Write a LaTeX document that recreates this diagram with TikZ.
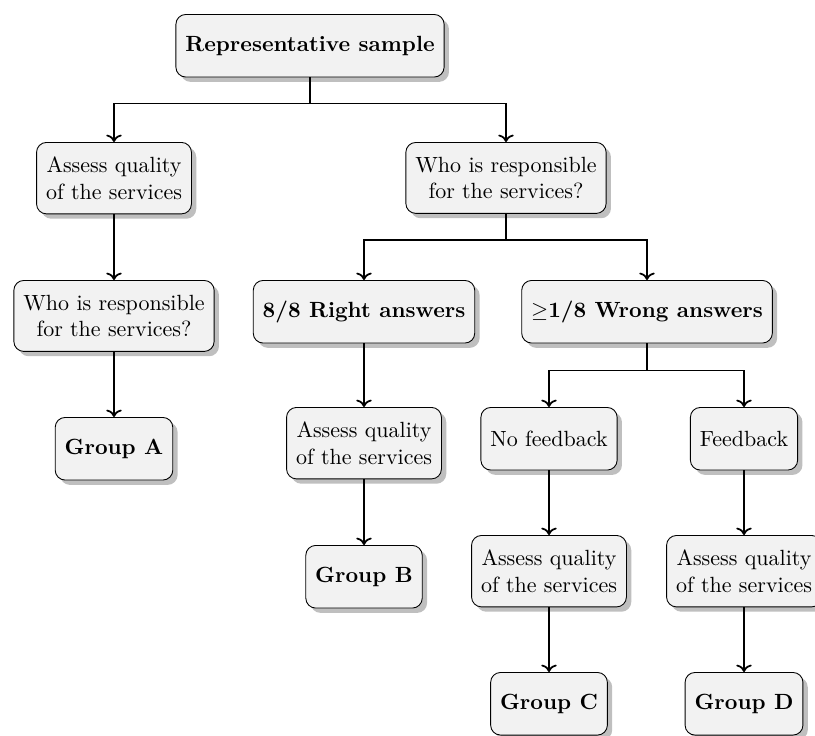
\documentclass[tikz,border=0pt]{standalone}
\usetikzlibrary{shadows,arrows.meta}
\begin{document}
\begin{tikzpicture}[x=0.4545pt,y=-0.4545pt,
  box/.style={draw, rounded corners=4.5pt, fill=black!5, align=center,
    inner xsep=4.3pt, inner ysep=6.6pt, minimum height=1cm, anchor=north,
    drop shadow={shadow xshift=2.2pt, shadow yshift=-2.2pt, fill=black!25, opacity=1}},
  conn/.style={thick, ->}]
\useasboundingbox (0,0) rectangle (815,735);
\node[box] (root) at (310,14) {\textbf{Representative sample}};
\node[box] (a1) at (114,142) {Assess quality\\of the services};
\node[box] (w1) at (506,142) {Who is responsible\\for the services?};
\node[box] (w2) at (114,280) {Who is responsible\\for the services?};
\node[box] (r8) at (364,280) {\textbf{8/8 Right answers}};
\node[box] (wr) at (647,280) {\textbf{$\geq$1/8 Wrong answers}};
\node[box] (gA) at (114,417) {\textbf{Group A}};
\node[box] (a2) at (364,407) {Assess quality\\of the services};
\node[box] (nf) at (549,407) {No feedback};
\node[box] (fb) at (744,407) {Feedback};
\node[box] (gB) at (364,545) {\textbf{Group B}};
\node[box] (a3) at (549,535) {Assess quality\\of the services};
\node[box] (a4) at (744,535) {Assess quality\\of the services};
\node[box] (gC) at (549,672) {\textbf{Group C}};
\node[box] (gD) at (744,672) {\textbf{Group D}};
\draw[conn] (root.south) -- ++(0,26) -| (a1.north);
\draw[conn] (root.south) -- ++(0,26) -| (w1.north);
\draw[conn] (w1.south) -- ++(0,26) -| (r8.north);
\draw[conn] (w1.south) -- ++(0,26) -| (wr.north);
\draw[conn] (wr.south) -- ++(0,27) -| (nf.north);
\draw[conn] (wr.south) -- ++(0,27) -| (fb.north);
\draw[conn] (a1) -- (w2);
\draw[conn] (w2) -- (gA);
\draw[conn] (r8) -- (a2);
\draw[conn] (a2) -- (gB);
\draw[conn] (nf) -- (a3);
\draw[conn] (a3) -- (gC);
\draw[conn] (fb) -- (a4);
\draw[conn] (a4) -- (gD);
\end{tikzpicture}
\end{document}
